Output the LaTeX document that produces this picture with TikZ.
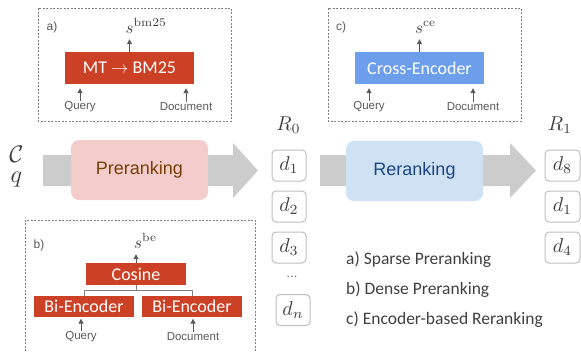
\documentclass[tikz,border=0pt]{standalone}
\usepackage{amsmath}
\usepackage{graphicx}
\usepackage[no-math]{fontspec}
\usepackage{xcolor}
\usepackage{tikz}
\usetikzlibrary{arrows.meta}

\newfontfamily\arialf{Liberation Sans}
\newfontfamily\calif{Carlito}
\newcommand{\bigmath}[2][2]{\scalebox{#1}{$#2$}}

\definecolor{boxred}{HTML}{CC4125}
\definecolor{boxblue}{HTML}{6D9EEB}
\definecolor{prefill}{HTML}{F4CCCC}
\definecolor{pretext}{HTML}{783F04}
\definecolor{refill}{HTML}{CFE2F3}
\definecolor{retext}{HTML}{1C4587}
\definecolor{arrowgray}{HTML}{CCCCCC}
\definecolor{docgray}{HTML}{BFBFBF}
\definecolor{inkgray}{HTML}{404040}
\definecolor{labelgray}{HTML}{595959}
\definecolor{dashgray}{HTML}{808080}

\tikzset{
  dashbox/.style={draw=dashgray, dash pattern=on 2pt off 1.5pt, line width=0.7pt},
  bigarrow/.style={fill=arrowgray},
  tag/.style={text=labelgray, font=\arialf\fontsize{12}{14}\selectfont, inner sep=1pt},
  model/.style={text=white, font=\calif\fontsize{18}{20}\selectfont, inner sep=0pt},
  inputlbl/.style={text=labelgray, font=\arialf\fontsize{11.5}{13}\selectfont, inner sep=1pt},
  score/.style={text=inkgray, inner xsep=0pt, inner ysep=6pt, anchor=base west},
  up/.style={draw=labelgray, line width=1pt, -{Triangle[length=5pt,width=5pt]}},
  tree/.style={draw=dashgray, line width=0.8pt},
  stage/.style={rounded corners=8pt, minimum width=137pt, minimum height=60pt, inner sep=0pt, font=\arialf\fontsize{18}{20}\selectfont},
  mathlbl/.style={text=inkgray, inner sep=0pt},
  doc/.style={draw=docgray, fill=white, rounded corners=4pt, line width=1pt, minimum width=34pt, minimum height=31pt, inner sep=0pt, text=inkgray},
  legend/.style={text=inkgray, font=\calif\fontsize{17.5}{20}\selectfont, inner sep=0pt, anchor=base west}
}

\begin{document}
\begin{tikzpicture}[x=1pt, y=-1pt]
\useasboundingbox (0,0) rectangle (581,351);

\fill[bigarrow] (43,155) -- (233,155) -- (233,143) -- (258,170.5) -- (233,198) -- (233,186) -- (43,186) -- cycle;
\fill[bigarrow] (320,155) -- (510,155) -- (510,143) -- (536,170.5) -- (510,198) -- (510,186) -- (320,186) -- cycle;

\draw[dashbox] (38,8) rectangle (231,121);
\draw[dashbox] (328,8) rectangle (521,121);
\draw[dashbox] (25,351) -- (25,220) -- (255,220) -- (255,351);

\node[tag] (Ta) at (52,27) {a)};
\node[tag] (Tb) at (39,245) {b)};
\node[tag] (Tc) at (341,27) {c)};

\node[model, fill=boxred, minimum width=129pt, minimum height=32pt] (MT) at (129.5,68) {MT $\rightarrow$ BM25};
\node[score] (Sa) at (125.5,33) {\bigmath[1.7]{s^{\mathrm{bm25}}}};
\node[inputlbl] (Qa) at (80,107) {Query};
\node[inputlbl] (Da) at (186,107) {Document};
\draw[up] (MT.north) -- (MT.north |- Sa.south);
\draw[up, shorten >=4pt] (Qa.north) -- (Qa.north |- MT.south);
\draw[up, shorten >=4pt] (Da.north) -- (Da.north |- MT.south);

\node[model, fill=boxblue, minimum width=129pt, minimum height=32pt] (CE) at (419.5,68) {Cross-Encoder};
\node[score] (Sc) at (415,33) {\bigmath[1.7]{s^{\mathrm{ce}}}};
\node[inputlbl] (Qc) at (369,107) {Query};
\node[inputlbl] (Dc) at (473,107) {Document};
\draw[up] (CE.north) -- (CE.north |- Sc.south);
\draw[up, shorten >=4pt] (Qc.north) -- (Qc.north |- CE.south);
\draw[up, shorten >=4pt] (Dc.north) -- (Dc.north |- CE.south);

\node[model, fill=boxred, minimum width=100pt, minimum height=22pt] (Cos) at (136,274) {Cosine};
\node[model, fill=boxred, minimum width=100pt, minimum height=21pt] (Bi1) at (84,306.5) {Bi-Encoder};
\node[model, fill=boxred, minimum width=100pt, minimum height=21pt] (Bi2) at (192,306.5) {Bi-Encoder};
\node[score] (Sb) at (134,248) {\bigmath[1.7]{s^{\mathrm{be}}}};
\node[inputlbl] (Qb) at (81,337) {Query};
\node[inputlbl] (Db) at (193,337) {Document};
\draw[up] (Cos.north) -- (Cos.north |- Sb.south);
\draw[tree] (Bi1.north) -- ++(0,-5) -| (Bi2.north);
\draw[tree] (Cos.south) -- ++(0,6);
\draw[up, shorten >=1.5pt] (Qb.north) -- (Qb.north |- Bi1.south);
\draw[up, shorten >=1.5pt] (Db.north) -- (Db.north |- Bi2.south);

\node[stage, fill=prefill, text=pretext] (Pre) at (139.5,170) {Preranking};
\node[stage, fill=refill, text=retext] (Re) at (414.5,171) {Reranking};

\node[mathlbl, anchor=base] (C) at (16.5,162) {\bigmath[2.4]{\mathcal{C}}};
\node[mathlbl, anchor=base] (Q) at (16.5,182) {\bigmath[2.4]{q}};

\node[mathlbl] (R0) at (288.5,125) {\bigmath{R_0}};
\node[doc] (D1) at (289,165.5) {\bigmath{d_1}};
\node[doc] (D2) at (289,206.5) {\bigmath{d_2}};
\node[doc] (D3) at (289,247.5) {\bigmath{d_3}};
\node[text=inkgray, font=\fontsize{14}{16}\selectfont, inner sep=0pt] (Dots) at (292,277) {...};
\node[doc] (Dn) at (293,310) {\bigmath{d_n}};

\node[mathlbl] (R1) at (560,125) {\bigmath{R_1}};
\node[doc, minimum width=35pt] (E1) at (562.5,165.5) {\bigmath{d_8}};
\node[doc, minimum width=35pt] (E2) at (562.5,206.5) {\bigmath{d_1}};
\node[doc, minimum width=35pt] (E3) at (562.5,247.5) {\bigmath{d_4}};

\node[legend] (La) at (346,264) {a) Sparse Preranking};
\node[legend] (Lb) at (346,294) {b) Dense Preranking};
\node[legend] (Lc) at (346,324) {c) Encoder-based Reranking};
\end{tikzpicture}
\end{document}
